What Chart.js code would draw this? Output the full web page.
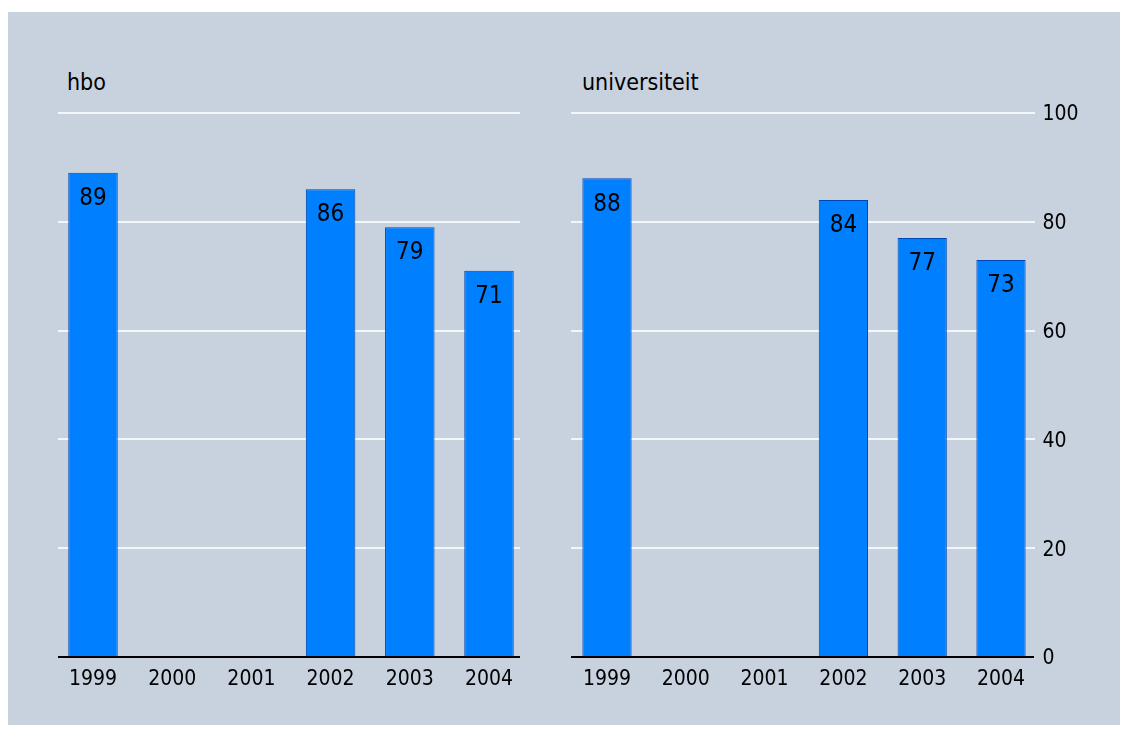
<!DOCTYPE html>
<html lang="nl">
<head>
  <meta charset="UTF-8">
  <title>hbo en universiteit</title>
  <script src="https://cdn.jsdelivr.net/npm/chart.js"></script>
  <style>
    body {
      margin: 0;
      background: #ffffff;
      font-family: "DejaVu Sans Condensed", "Liberation Sans", sans-serif;
    }
    #panel {
      position: absolute;
      left: 8px;
      top: 12px;
      width: 1112px;
      height: 713px;
      background: #c7d2de;
    }
    canvas {
      position: absolute;
      top: 12px;
    }
    .title {
      position: absolute;
      top: 71px;
      font-size: 23px;
      line-height: 23px;
      color: #000;
    }
  </style>
</head>
<body>
  <div id="panel"></div>
  <div class="title" style="left:67px">hbo</div>
  <div class="title" style="left:582px">universiteit</div>
  <canvas id="hboChart" width="556" height="713" style="left:8px"></canvas>
  <canvas id="uniChart" width="556" height="713" style="left:564px"></canvas>

  <script>
    const years = ["1999", "2000", "2001", "2002", "2003", "2004"];
    const hboValues = [89, null, null, 86, 79, 71];
    const uniValues = [88, null, null, 84, 77, 73];
    const yTicks = [0, 20, 40, 60, 80, 100];

    const FONT = '"DejaVu Sans Condensed", "Liberation Sans", sans-serif';

    // white horizontal grid lines plus the black base line
    const panelGrid = {
      id: "panelGrid",
      beforeDatasetsDraw(chart, args, opts) {
        const ctx = chart.ctx;
        const y = chart.scales.y;
        ctx.save();
        ctx.strokeStyle = "#f4f7fa";
        ctx.lineWidth = 2;
        yTicks.forEach(v => {
          if (v === 0) return;
          const py = Math.round(y.getPixelForValue(v));
          ctx.beginPath();
          ctx.moveTo(opts.from, py);
          ctx.lineTo(opts.to, py);
          ctx.stroke();
        });
        ctx.restore();
      },
      afterDatasetsDraw(chart, args, opts) {
        const ctx = chart.ctx;
        const py = Math.round(chart.scales.y.getPixelForValue(0));
        ctx.save();
        ctx.strokeStyle = "#000";
        ctx.lineWidth = 2;
        ctx.beginPath();
        ctx.moveTo(opts.from, py);
        ctx.lineTo(opts.axisTo || opts.to, py);
        ctx.stroke();
        ctx.restore();
      }
    };

    // value printed inside the top of each bar
    const barValues = {
      id: "barValues",
      afterDatasetsDraw(chart) {
        const ctx = chart.ctx;
        const meta = chart.getDatasetMeta(0);
        const data = chart.data.datasets[0].data;
        ctx.save();
        ctx.font = "24px " + FONT;
        ctx.fillStyle = "#000";
        ctx.textAlign = "center";
        ctx.textBaseline = "middle";
        meta.data.forEach((bar, i) => {
          if (data[i] == null) return;
          ctx.fillText(String(data[i]), bar.x, bar.y + 26);
        });
        ctx.restore();
      }
    };

    function makeChart(id, values, opts) {
      return new Chart(document.getElementById(id), {
        type: "bar",
        data: {
          labels: years,
          datasets: [{
            data: values,
            backgroundColor: "#0080ff",
            borderColor: "#0046b4",
            borderWidth: 1,
            borderSkipped: false,
            barPercentage: 0.625,
            categoryPercentage: 1
          }]
        },
        options: {
          responsive: false,
          animation: false,
          layout: { padding: opts.padding },
          plugins: {
            legend: { display: false },
            tooltip: { enabled: false },
            panelGrid: opts.grid
          },
          scales: {
            x: {
              grid: { display: false, drawTicks: false },
              border: { display: false },
              ticks: {
                color: "#000",
                padding: 10,
                font: { family: FONT, size: 21 }
              },
              afterFit(scale) { scale.height = 40; }
            },
            y: {
              min: 0,
              max: 100,
              display: opts.showY,
              position: "right",
              grid: { display: false, drawTicks: false },
              border: { display: false },
              afterBuildTicks(scale) {
                scale.ticks = yTicks.map(v => ({ value: v }));
              },
              ticks: {
                color: "#000",
                padding: 2,
                labelOffset: 2,
                font: { family: FONT, size: 21 }
              },
              afterFit(scale) { scale.width = opts.showY ? 60 : 0; }
            }
          }
        },
        plugins: [panelGrid, barValues]
      });
    }

    makeChart("hboChart", hboValues, {
      padding: { left: 45.4, right: 35.4, top: 101, bottom: 28 },
      grid: { from: 50, to: 512 },
      showY: false
    });

    makeChart("uniChart", uniValues, {
      padding: { left: 3.6, right: 19.6, top: 101, bottom: 28 },
      grid: { from: 7, to: 471, axisTo: 470 },
      showY: true
    });
  </script>
</body>
</html>
